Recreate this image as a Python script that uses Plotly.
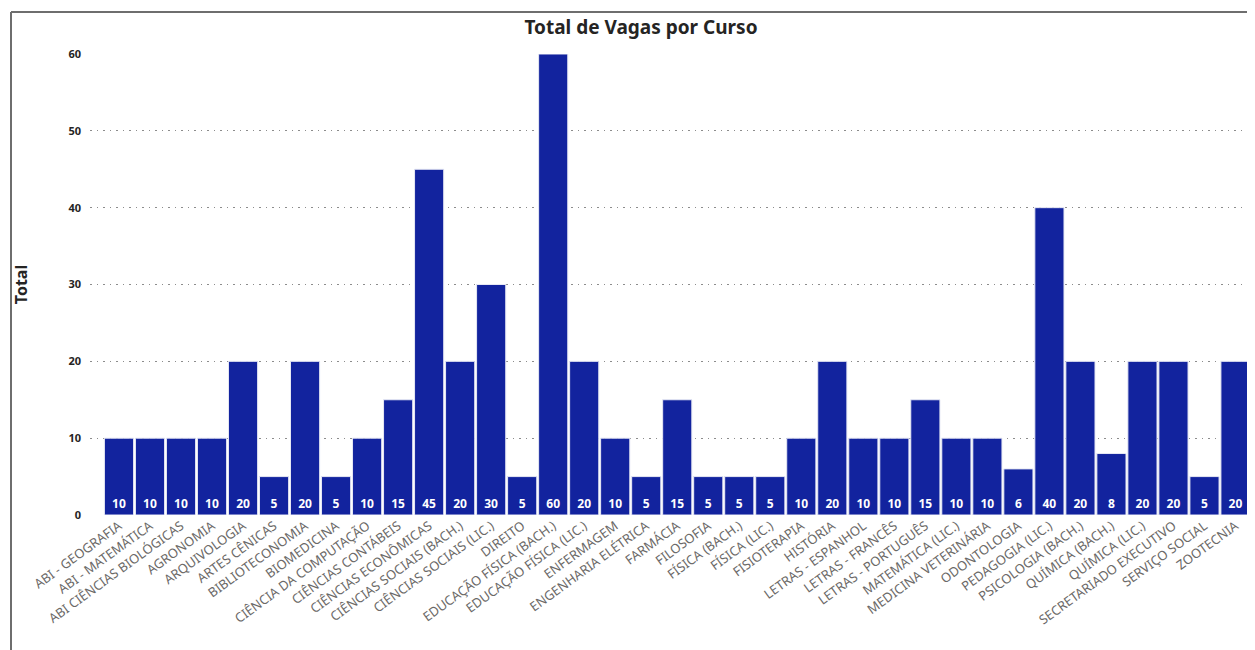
import plotly.graph_objects as go

cursos = [
    "ABI - GEOGRAFIA", "ABI - MATEMÁTICA", "ABI CIÊNCIAS BIOLÓGICAS", "AGRONOMIA",
    "ARQUIVOLOGIA", "ARTES CÊNICAS", "BIBLIOTECONOMIA", "BIOMEDICINA",
    "CIÊNCIA DA COMPUTAÇÃO", "CIÊNCIAS CONTÁBEIS", "CIÊNCIAS ECONÔMICAS",
    "CIÊNCIAS SOCIAIS (BACH.)", "CIÊNCIAS SOCIAIS (LIC.)", "DIREITO",
    "EDUCAÇÃO FÍSICA (BACH.)", "EDUCAÇÃO FÍSICA (LIC.)", "ENFERMAGEM",
    "ENGENHARIA ELÉTRICA", "FARMÁCIA", "FILOSOFIA", "FÍSICA (BACH.)", "FÍSICA (LIC.)",
    "FISIOTERAPIA", "HISTÓRIA", "LETRAS - ESPANHOL", "LETRAS - FRANCÊS",
    "LETRAS - PORTUGUÊS", "MATEMÁTICA (LIC.)", "MEDICINA VETERINÁRIA", "ODONTOLOGIA",
    "PEDAGOGIA (LIC.)", "PSICOLOGIA (BACH.)", "QUÍMICA (BACH.)", "QUÍMICA (LIC.)",
    "SECRETARIADO EXECUTIVO", "SERVIÇO SOCIAL", "ZOOTECNIA",
]
vagas = [10, 10, 10, 10, 20, 5, 20, 5, 10, 15, 45, 20, 30, 5, 60, 20, 10, 5, 15, 5,
         5, 5, 10, 20, 10, 10, 15, 10, 10, 6, 40, 20, 8, 20, 20, 5, 20]
y_ticks = [0, 10, 20, 30, 40, 50, 60]

# page body has an 8px margin; work in reference pixel coords and shift
OFF = 8
W, H = 1255 - OFF, 650 - OFF
PL, PR, PT, PB = 90, 1251, 54, 515          # plot area in reference coords
ML, MR, MT, MB = PL - OFF, 1255 - PR, PT - OFF, 650 - PB
pw, ph = W - ML - MR, H - MT - MB

FONT = "Noto Sans"

fig = go.Figure(go.Bar(
    x=cursos, y=vagas,
    marker=dict(color="#12239E", line=dict(color="#e6e8f4", width=1)),
    text=[str(v) for v in vagas],
    textposition="inside", insidetextanchor="start", textangle=0,
    textfont=dict(family=FONT, size=12, color="white", weight="bold"),
    cliponaxis=False,
))

def px_x(x):
    return (x - PL) / (PR - PL)

def px_y(y):
    return (PB - y) / (PB - PT)

fig.add_shape(type="line", xref="paper", yref="paper", x0=px_x(11), x1=px_x(1262),
              y0=px_y(12), y1=px_y(12), line=dict(color="#6e6e6e", width=2))
fig.add_shape(type="line", xref="paper", yref="paper", x0=px_x(11), x1=px_x(11),
              y0=px_y(12), y1=px_y(660), line=dict(color="#6e6e6e", width=2))

extra = (103.5 - PL) / 31.03
fig.update_layout(
    width=W, height=H,
    margin=dict(l=ML, r=MR, t=MT, b=MB),
    paper_bgcolor="white", plot_bgcolor="white",
    bargap=0.06,
    showlegend=False,
    title=dict(text="<b>Total de Vagas por Curso</b>", x=px_x(641), xref="paper",
               xanchor="center", y=1 - (27 - OFF) / H, yanchor="middle",
               font=dict(family=FONT, size=19, color="#252423")),
    xaxis=dict(range=[-0.5 - extra, len(cursos) - 0.5], tickangle=-36,
               tickfont=dict(family=FONT, size=13, color="#6b6967"),
               showgrid=False, showline=False, ticks=""),
    yaxis=dict(range=[0, 60], tickvals=y_ticks, showgrid=True, gridcolor="#8c8c8c",
               griddash="1.5px,5px", gridwidth=1.2, zeroline=False, showline=False,
               ticklabelstandoff=8,
               tickfont=dict(family=FONT, size=11, color="#252423", weight="bold"),
               title=dict(text="<b>Total</b>", standoff=36,
                          font=dict(family=FONT, size=16, color="#252423"))),
)

fig.write_html("out.html")
